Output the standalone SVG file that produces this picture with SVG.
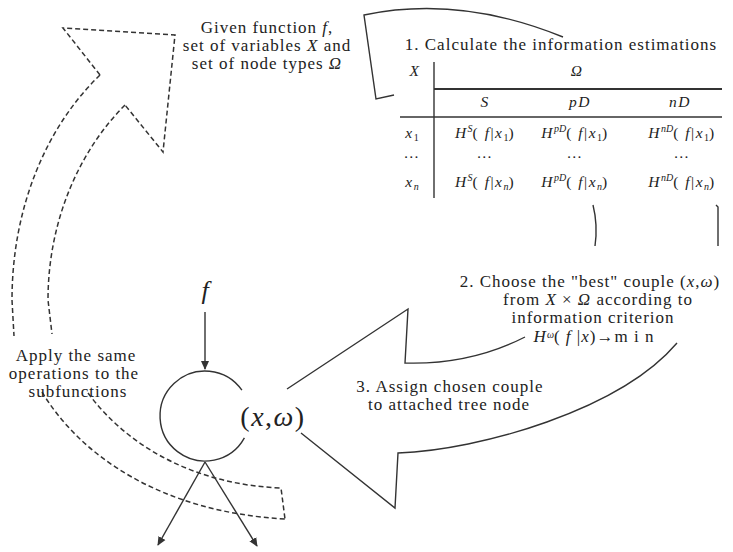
<svg xmlns="http://www.w3.org/2000/svg" width="733" height="552" viewBox="0 0 733 552">
<style>
text{font-family:"Liberation Serif","Times New Roman",serif;fill:#222}
.lbl{font-size:17px;letter-spacing:1px;text-anchor:middle}
.tb{font-size:15.5px;letter-spacing:1.5px;text-anchor:middle}
.i{font-style:italic}
.sm{font-size:10px;letter-spacing:0}
.solid{fill:none;stroke:#333;stroke-width:1.4}
.dash{fill:none;stroke:#333;stroke-width:1.5;stroke-dasharray:5,3}
</style>
<defs>
<marker id="ah" markerWidth="10" markerHeight="10" refX="8" refY="5" orient="auto" markerUnits="userSpaceOnUse">
<path d="M0,1 L9,5 L0,9 Z" fill="#333"/>
</marker>
</defs>
<rect width="733" height="552" fill="#fff"/>

<g id="connectors">
<path class="dash" d="M100,75 L63,28 L175,35 L163,152 L125,105"/>
<path class="dash" d="M100,75 C48,125 12,205 12,300 L14,336"/>
<path class="dash" d="M125,105 C80,150 48,220 48,300 L52,334"/>
<path class="dash" d="M42,392 C80,455 160,512 285,519"/>
<path class="dash" d="M88,393 C130,450 200,485 281,488 L285,519"/>
<path class="solid" d="M394,95 L376,99 L364,15 Q460,-5 563,37"/>
<path class="solid" d="M593,205 Q598,225 595,246"/>
<path class="solid" d="M716,205 L718,207 L718,246"/>
<path class="solid" d="M525,337 Q470,365 405,363 L408,309 L287,389"/>
<path class="solid" d="M677,343 C620,410 480,450 398,453 L395,508 L301,433"/>
<line class="solid" x1="205" y1="312" x2="205" y2="369" marker-end="url(#ah)"/>
<line class="solid" x1="205" y1="462" x2="158" y2="545" marker-end="url(#ah)"/>
<line class="solid" x1="205" y1="462" x2="257" y2="546" marker-end="url(#ah)"/>
</g>

<g id="node-tree">
<path class="solid" d="M241.9,390.2 A45,45 0 1 0 244.4,437.8"/>
<text x="205" y="299" font-size="26" text-anchor="middle" class="i">f</text>
<text x="273" y="426" font-size="28" text-anchor="middle" letter-spacing="1.5">(<tspan class="i">x</tspan>,<tspan class="i">ω</tspan>)</text>
</g>

<g id="node-given">
<text class="lbl" x="267" y="33">Given function <tspan class="i">f</tspan>,</text>
<text class="lbl" x="267" y="51">set of variables <tspan class="i">X</tspan> and</text>
<text class="lbl" x="267" y="69">set of node types <tspan class="i">Ω</tspan></text>
</g>

<g id="node-step1">
<text class="lbl" x="561" y="50">1. Calculate the information estimations</text>
<line x1="434" y1="62" x2="434" y2="198" stroke="#333" stroke-width="1.4"/>
<line x1="434" y1="89" x2="722" y2="89" stroke="#333" stroke-width="2"/>
<line x1="400" y1="117" x2="722" y2="117" stroke="#333" stroke-width="1.4"/>
<text class="tb i" x="415" y="76">X</text>
<text class="tb i" x="577" y="76">Ω</text>
<text class="tb i" x="485" y="107">S</text>
<text class="tb i" x="580" y="107">pD</text>
<text class="tb i" x="680" y="107">nD</text>
<text class="tb" x="412" y="138"><tspan class="i">x</tspan><tspan class="sm" dy="3">1</tspan></text>
<text class="tb" x="485" y="138"><tspan class="i">H</tspan><tspan class="sm i" dy="-6">S</tspan><tspan dy="6">( </tspan><tspan class="i">f</tspan>|<tspan class="i">x</tspan><tspan class="sm" dy="3">1</tspan><tspan dy="-3">)</tspan></text>
<text class="tb" x="575" y="138"><tspan class="i">H</tspan><tspan class="sm i" dy="-6">pD</tspan><tspan dy="6">( </tspan><tspan class="i">f</tspan>|<tspan class="i">x</tspan><tspan class="sm" dy="3">1</tspan><tspan dy="-3">)</tspan></text>
<text class="tb" x="682" y="138"><tspan class="i">H</tspan><tspan class="sm i" dy="-6">nD</tspan><tspan dy="6">( </tspan><tspan class="i">f</tspan>|<tspan class="i">x</tspan><tspan class="sm" dy="3">1</tspan><tspan dy="-3">)</tspan></text>
<text class="tb" x="412" y="158">…</text>
<text class="tb" x="485" y="158">…</text>
<text class="tb" x="575" y="158">…</text>
<text class="tb" x="682" y="158">…</text>
<text class="tb" x="412" y="187"><tspan class="i">x</tspan><tspan class="sm i" dy="3">n</tspan></text>
<text class="tb" x="485" y="187"><tspan class="i">H</tspan><tspan class="sm i" dy="-6">S</tspan><tspan dy="6">( </tspan><tspan class="i">f</tspan>|<tspan class="i">x</tspan><tspan class="sm i" dy="3">n</tspan><tspan dy="-3">)</tspan></text>
<text class="tb" x="575" y="187"><tspan class="i">H</tspan><tspan class="sm i" dy="-6">pD</tspan><tspan dy="6">( </tspan><tspan class="i">f</tspan>|<tspan class="i">x</tspan><tspan class="sm i" dy="3">n</tspan><tspan dy="-3">)</tspan></text>
<text class="tb" x="682" y="187"><tspan class="i">H</tspan><tspan class="sm i" dy="-6">nD</tspan><tspan dy="6">( </tspan><tspan class="i">f</tspan>|<tspan class="i">x</tspan><tspan class="sm i" dy="3">n</tspan><tspan dy="-3">)</tspan></text>
</g>

<g id="node-step2">
<text class="lbl" x="590" y="287">2. Choose the "best" couple (<tspan class="i">x</tspan>,<tspan class="i">ω</tspan>)</text>
<text class="lbl" x="598" y="305">from  <tspan class="i">X</tspan> × <tspan class="i">Ω</tspan>  according to</text>
<text class="lbl" x="593" y="323">information criterion</text>
<text class="lbl" x="594" y="342"><tspan class="i">H</tspan><tspan class="sm i" dy="-4" font-size="9">ω</tspan><tspan dy="4">( </tspan><tspan class="i">f</tspan> |<tspan class="i">x</tspan>)→m i n</text>
</g>

<g id="node-step3">
<text class="lbl" x="450" y="392">3. Assign chosen couple</text>
<text class="lbl" x="449" y="410">to attached tree node</text>
</g>

<g id="node-apply">
<text class="lbl" x="76" y="361">Apply the same</text>
<text class="lbl" x="74" y="379">operations to the</text>
<text class="lbl" x="78" y="397">subfunctions</text>
</g>
</svg>
